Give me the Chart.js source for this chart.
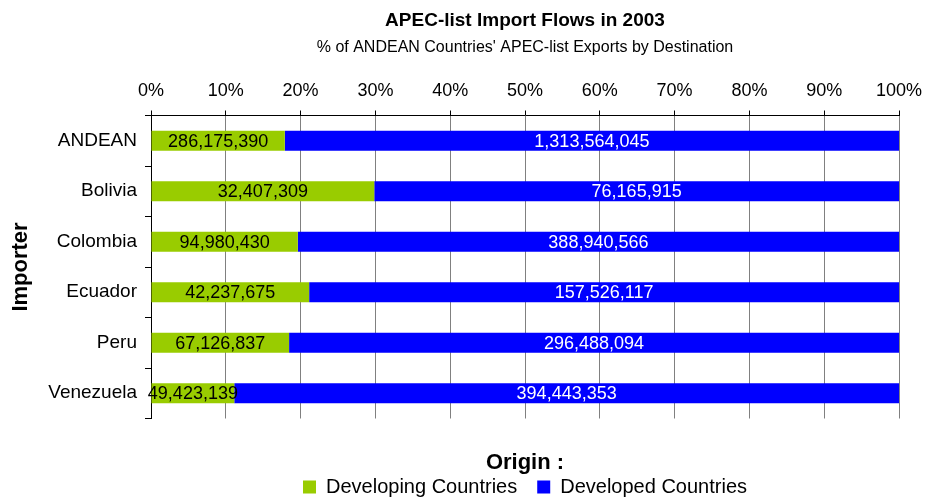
<!DOCTYPE html>
<html>
<head>
<meta charset="utf-8">
<script src="https://cdn.jsdelivr.net/npm/chart.js@4/dist/chart.umd.min.js"></script>
<style>
  html, body { margin: 0; padding: 0; background: #fff; }
  #wrap { width: 927px; height: 497px; }
</style>
</head>
<body>
<div id="wrap"><canvas id="chart"></canvas></div>
<script>
// Data
const importers = ['ANDEAN', 'Bolivia', 'Colombia', 'Ecuador', 'Peru', 'Venezuela'];
const developing = [286175390, 32407309, 94980430, 42237675, 67126837, 49423139];
const developed = [1313564045, 76165915, 388940566, 157526117, 296488094, 394443353];
const seriesNames = ['Developing Countries', 'Developed Countries'];
const percentTicks = [0, 10, 20, 30, 40, 50, 60, 70, 80, 90, 100];

const totals = importers.map((_, i) => developing[i] + developed[i]);
const toPercent = arr => arr.map((v, i) => v / totals[i] * 100);

// Draws the raw value in the middle of each bar segment
const valueLabels = {
    id: 'valueLabels',
    afterDatasetsDraw(chart) {
        const ctx = chart.ctx;
        ctx.save();
        ctx.font = '18px "Liberation Sans", Arial, sans-serif';
        ctx.textAlign = 'center';
        ctx.textBaseline = 'middle';
        chart.data.datasets.forEach((ds, di) => {
            const meta = chart.getDatasetMeta(di);
            meta.data.forEach((bar, i) => {
                const x = (bar.x + bar.base) / 2;
                ctx.fillStyle = di === 0 ? '#000' : '#fff';
                ctx.fillText(ds.raw[i].toLocaleString('en-US'), x, bar.y + 1);
            });
        });
        ctx.restore();
    }
};

// Titles and legend sit centred over the plot area, not the whole canvas
const centerOnPlot = {
    id: 'centerOnPlot',
    afterLayout(chart) {
        const area = chart.chartArea;
        chart.boxes.forEach(box => {
            const isText = box === chart.legend || (box.options && typeof box.options.text === 'string' && !box.axis);
            if (!isText) return;
            const shift = (area.left + area.right) / 2 - (box.left + box.right) / 2;
            box.left += shift;
            box.right += shift;
        });
    }
};

Chart.defaults.font.family = '"Liberation Sans", Arial, sans-serif';
Chart.defaults.color = '#000';

new Chart(document.getElementById('chart'), {
    type: 'bar',
    data: {
        labels: importers,
        datasets: [
            {
                label: seriesNames[0],
                data: toPercent(developing),
                raw: developing,
                backgroundColor: '#99cc00'
            },
            {
                label: seriesNames[1],
                data: toPercent(developed),
                raw: developed,
                backgroundColor: '#0000ff'
            }
        ]
    },
    options: {
        indexAxis: 'y',
        responsive: true,
        maintainAspectRatio: false,
        animation: false,
        layout: { padding: { top: 0, right: 28, left: 8, bottom: -10 } },
        datasets: {
            bar: { categoryPercentage: 1, barPercentage: 0.4 }
        },
        scales: {
            x: {
                position: 'top',
                stacked: true,
                min: 0,
                max: 100,
                afterBuildTicks: scale => {
                    scale.ticks = percentTicks.map(v => ({ value: v }));
                },
                afterFit: scale => {
                    // the 100% label fits inside the right padding already
                    scale.paddingLeft = 0;
                    scale.paddingRight = 0;
                },
                ticks: {
                    font: { size: 18 },
                    padding: 9,
                    maxRotation: 0,
                    callback: v => v + '%'
                },
                grid: { color: '#808080', tickColor: '#000', tickLength: 5 },
                border: { color: '#000' }
            },
            y: {
                stacked: true,
                ticks: { font: { size: 19 }, padding: 8 },
                grid: {
                    offset: true,
                    tickLength: 6,
                    tickColor: '#000',
                    color: ctx => ctx.index === importers.length ? '#808080' : 'rgba(0,0,0,0)'
                },
                border: { color: '#000' },
                title: {
                    display: true,
                    text: 'Importer',
                    font: { size: 22, weight: 'bold' },
                    padding: { top: 0, bottom: 6 }
                },
                afterFit: scale => { scale.width = 143; }
            }
        },
        plugins: {
            title: {
                display: true,
                text: 'APEC-list Import Flows in 2003',
                font: { size: 19, weight: 'bold' },
                padding: { top: 9, bottom: 0 }
            },
            subtitle: {
                display: true,
                text: "% of ANDEAN Countries' APEC-list Exports by Destination",
                font: { size: 16 },
                padding: { top: 6.6, bottom: 13.3 }
            },
            legend: {
                position: 'bottom',
                labels: {
                    boxWidth: 13,
                    boxHeight: 13,
                    font: { size: 20 },
                    padding: 20
                },
                title: {
                    display: true,
                    text: 'Origin :',
                    font: { size: 22, weight: 'bold' },
                    padding: { top: 33.8, bottom: -21.7 }
                }
            },
            tooltip: { enabled: false }
        }
    },
    plugins: [valueLabels, centerOnPlot]
});
</script>
</body>
</html>
